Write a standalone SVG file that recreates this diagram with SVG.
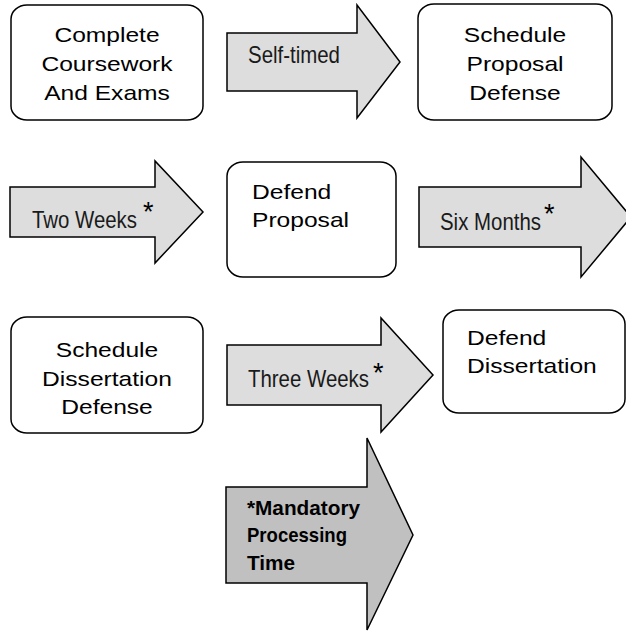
<svg xmlns="http://www.w3.org/2000/svg" width="626" height="631" viewBox="0 0 626 631">
<style>
.box{fill:#ffffff;stroke:#000000;stroke-width:1.5}
.arr{fill:#dddddd;stroke:#000000;stroke-width:1.5;stroke-linejoin:miter}
.dark{fill:#c0c0c0}
.t{font-family:"Liberation Sans",Arial,sans-serif;font-size:20.5px;fill:#000000}
.c{text-anchor:middle}
.lb{font-family:"Liberation Sans",Arial,sans-serif;font-size:24px;fill:#1a1a1a}
.ast{font-size:27px;fill:#000000}
.bold{font-family:"Liberation Sans",Arial,sans-serif;font-size:21px;font-weight:bold;fill:#000000}
</style>
<rect width="626" height="631" fill="#ffffff"/>
<g id="node-coursework">
<rect class="box" x="11" y="5" width="192" height="115" rx="16" ry="14"/>
<text class="t c" transform="translate(107 42) scale(1.2 1)">Complete</text>
<text class="t c" transform="translate(107 71) scale(1.2 1)">Coursework</text>
<text class="t c" transform="translate(107 99.5) scale(1.2 1)">And Exams</text>
</g>
<g id="node-schedule-proposal">
<rect class="box" x="418" y="4" width="194" height="116" rx="16" ry="14"/>
<text class="t c" transform="translate(515 42) scale(1.2 1)">Schedule</text>
<text class="t c" transform="translate(515 71) scale(1.2 1)">Proposal</text>
<text class="t c" transform="translate(515 99.5) scale(1.2 1)">Defense</text>
</g>
<g id="node-defend-proposal">
<rect class="box" x="227" y="162" width="169" height="115" rx="16" ry="14"/>
<text class="t" transform="translate(252 199) scale(1.2 1)">Defend</text>
<text class="t" transform="translate(252 227) scale(1.2 1)">Proposal</text>
</g>
<g id="node-schedule-dissertation">
<rect class="box" x="11" y="317" width="192" height="116" rx="16" ry="14"/>
<text class="t c" transform="translate(107 357) scale(1.2 1)">Schedule</text>
<text class="t c" transform="translate(107 385.5) scale(1.2 1)">Dissertation</text>
<text class="t c" transform="translate(107 414) scale(1.2 1)">Defense</text>
</g>
<g id="node-defend-dissertation">
<rect class="box" x="443" y="310" width="182" height="103" rx="16" ry="14"/>
<text class="t" transform="translate(467 345) scale(1.2 1)">Defend</text>
<text class="t" transform="translate(467 373) scale(1.2 1)">Dissertation</text>
</g>
<g id="connectors">
<g id="arrow-self-timed">
<polygon class="arr" points="227,33 357,33 357,5 400,62 357,118 357,91 227,91"/>
<text class="lb" x="248" y="63" textLength="92" lengthAdjust="spacingAndGlyphs">Self-timed</text>
</g>
<g id="arrow-two-weeks">
<polygon class="arr" points="10,187 155,187 155,161 203,212 155,263 155,237 10,237"/>
<text class="lb" x="32" y="228"><tspan textLength="105" lengthAdjust="spacingAndGlyphs">Two Weeks</tspan><tspan class="ast" x="143" y="221">*</tspan></text>
</g>
<g id="arrow-six-months">
<polygon class="arr" points="419,187 581,187 581,157 631,217 581,277 581,247 419,247"/>
<text class="lb" x="440" y="230"><tspan textLength="101" lengthAdjust="spacingAndGlyphs">Six Months</tspan><tspan class="ast" x="544" y="223">*</tspan></text>
</g>
<g id="arrow-three-weeks">
<polygon class="arr" points="227,345 381,345 381,318 433,375 381,432 381,405 227,405"/>
<text class="lb" x="248" y="387"><tspan textLength="121" lengthAdjust="spacingAndGlyphs">Three Weeks</tspan><tspan class="ast" x="373" y="382">*</tspan></text>
</g>
</g>
<g id="legend-mandatory">
<polygon class="arr dark" points="226,487 367,487 367,438 413,535 367,630 367,583 226,583"/>
<text class="bold" x="247" y="515" textLength="113" lengthAdjust="spacingAndGlyphs">*Mandatory</text>
<text class="bold" x="247" y="542" textLength="100" lengthAdjust="spacingAndGlyphs">Processing</text>
<text class="bold" x="247" y="570" textLength="48" lengthAdjust="spacingAndGlyphs">Time</text>
</g>
</svg>
